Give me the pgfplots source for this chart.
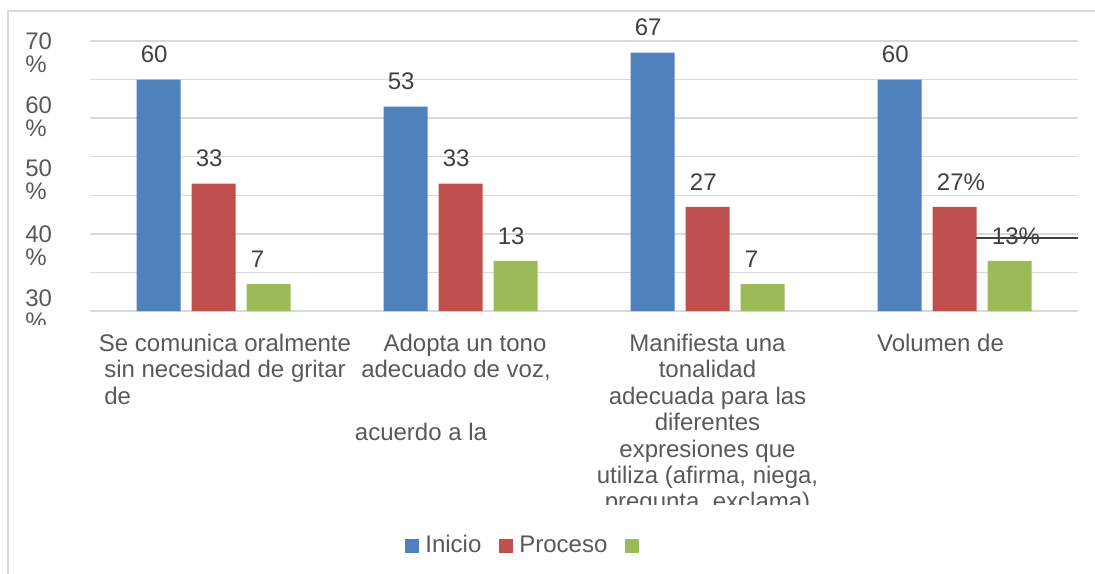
\documentclass[border=0pt]{standalone}
\usepackage{pgfplots}
\pgfplotsset{compat=1.18}
\usepackage{fontspec}
\setmainfont{Liberation Sans}
\definecolor{cblue}{HTML}{4F81BD}
\definecolor{cred}{HTML}{C0504D}
\definecolor{cgreen}{HTML}{9BBB59}
\definecolor{txt}{HTML}{595959}
\definecolor{lab}{HTML}{404040}
\definecolor{grd}{HTML}{D9D9D9}
\newcommand\sh[2]{\hbox{\kern#1\relax#2\kern-#1\relax}}
\pgfplotsset{
  mybar/.style={draw=none,
    legend image code/.code={\fill[##1] (0pt,-3.5pt) rectangle (7pt,3.5pt);},
    nodes near coords, point meta=explicit symbolic,
    every node near coord/.append style={anchor=west, inner sep=0pt, xshift=-9pt, yshift=12.5pt,
      text=lab, font=\fontsize{12}{14}\selectfont}},
}
\begin{document}
\begin{tikzpicture}
\path[use as bounding box] (0,0) rectangle (547.5pt,-286.5pt);
\draw[grd, line width=1pt] (4pt,-290pt) -- (4pt,-5.5pt) -- (550pt,-5.5pt);
\begin{axis}[
  at={(45pt,-155.5pt)}, anchor=south west,
  scale only axis, width=494pt, height=135pt,
  xmin=-0.5, xmax=3.5, ymin=0, ymax=70,
  axis line style={draw=none},
  major tick length=0pt,
  ybar=5.5pt, bar width=22pt,
  ytick={0,10,...,70}, yticklabels={,,,,,,,},
  ymajorgrids, grid style={grd, line width=0.75pt},
  extra y ticks={0.3,16.9,34.0,50.3,66.9},
  extra y tick labels={30\\\%,40\\\%,50\\\%,60\\\%,70\\\%},
  extra y tick style={grid=none, major tick length=0pt},
  yticklabel style={anchor=west, align=left, inner sep=0pt, xshift=-32.5pt,
    font=\fontsize{12}{11.5}\selectfont, text=txt},
  xtick={0,1,2,3},
  xticklabels={
    {\sh{5.75pt}{Se comunica oralmente}\\\sh{5.75pt}{sin necesidad de gritar}\\\sh{5.75pt}{\rlap{de}\phantom{sin necesidad de gritar}}},
    {\sh{2.25pt}{Adopta un tono}\\\sh{-2.25pt}{adecuado de voz,}\\[18pt]\sh{-19.75pt}{acuerdo a la}},
    {Manifiesta una\\tonalidad\\adecuada para las\\diferentes\\expresiones que\\utiliza (afirma, niega,\\pregunta, exclama)},
    {\sh{-7pt}{Volumen de}}},
  xticklabel style={align=center, anchor=north, yshift=-8pt,
    font=\fontsize{12}{13.2}\selectfont, text=txt},
  legend style={draw=none, fill=none, inner sep=0pt, at={(axis cs:0.775,-60.8)}, anchor=west,
    /tikz/every even column/.append style={column sep=9pt},
    /tikz/every odd column/.append style={column sep=3pt},
    nodes={inner sep=0pt, text=txt, font=\fontsize{12}{14}\selectfont}},
  legend columns=-1,
]
\addplot[fill=cblue, mybar] coordinates {(0,60) [60] (1,53) [53] (2,67) [67] (3,60) [60]};
\addplot[fill=cred, mybar] coordinates {(0,33) [33] (1,33) [33] (2,27) [27] (3,27) [27\%]};
\addplot[fill=cgreen, mybar] coordinates {(0,7) [7] (1,13) [13] (2,7) [7] (3,13) [13\%]};
\legend{Inicio,Proceso,{\mbox{}}}
\addplot[sharp plot, no marks, lab, line width=1pt, forget plot] coordinates {(3.089,19) (3.5,19)};
\end{axis}
\fill[white] (5pt,-162.5pt) rectangle (40pt,-172pt);
\fill[white] (300pt,-252.5pt) rectangle (410pt,-262pt);
\end{tikzpicture}
\end{document}
